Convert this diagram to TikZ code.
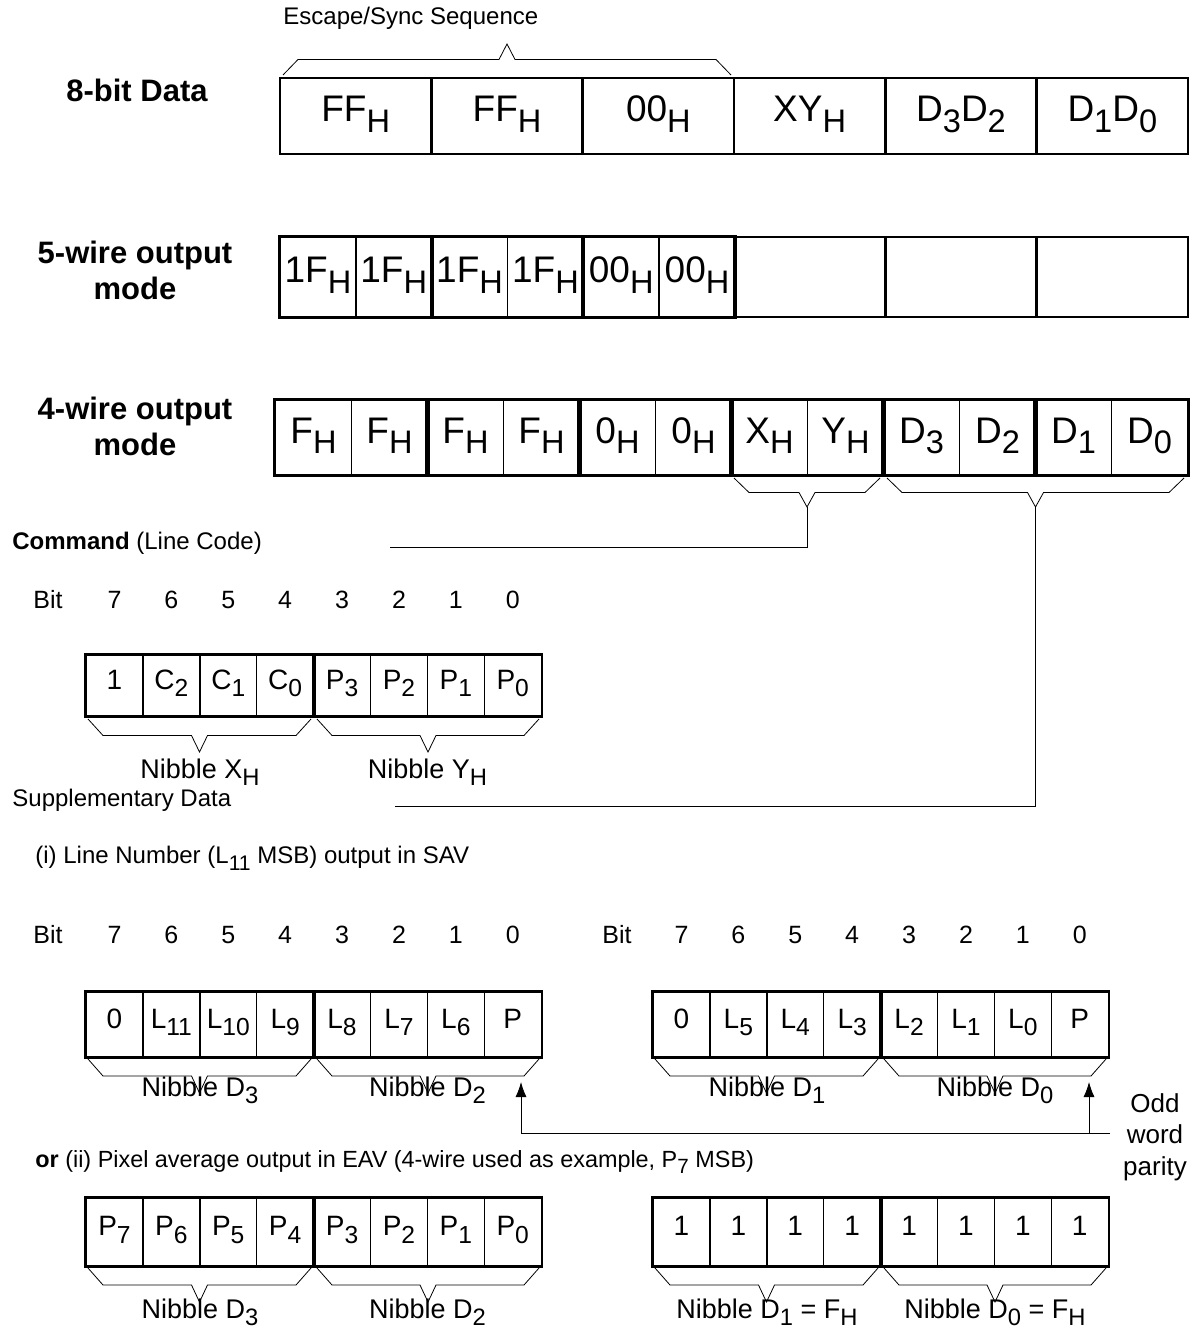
\documentclass[tikz,border=0pt]{standalone}
\usepackage{fontspec}
\setmainfont{Liberation Sans}
\usetikzlibrary{arrows.meta,positioning}

\newcommand{\lo}[1]{\raisebox{-0.28em}{\scalebox{0.88}{#1}}}
\newcommand{\nibbrace}[5]{%
  \draw (#1,#3) -- ({#1+15},{(#3+#4)/2}) -- ({(#1+#2)/2-8},{(#3+#4)/2})
    -- ({(#1+#2)/2},#4) coordinate (#5) -- ({(#1+#2)/2+8},{(#3+#4)/2})
    -- ({#2-15},{(#3+#4)/2}) -- (#2,#3);}

\begin{document}
\begin{tikzpicture}[x=0.5pt, y=-0.5pt, >={Latex[length=7.5pt,width=5.5pt]},
  every node/.style={inner sep=0pt, font=\fontsize{12}{14}\selectfont},
  rowlabel/.style={align=center, font=\fontsize{15.5}{18}\bfseries\selectfont},
  bigcell/.style={draw, line width=1.4pt, minimum width=75.67pt, minimum height=38pt, text height=13.2pt, text depth=7.5pt, font=\fontsize{18.5}{22}\selectfont},
  halfcell/.style={draw, line width=0.7pt, minimum width=37.9pt, text height=13.2pt, text depth=7.5pt, font=\fontsize{18.5}{22}\selectfont},
  bitcell/.style={draw, line width=0.7pt, minimum width=28.45pt, text height=10pt, text depth=6.5pt, font=\fontsize{14}{16}\selectfont},
  bitnum/.style={font=\fontsize{12.5}{15}\selectfont},
  nibble/.style={anchor=base, font=\fontsize{13.5}{16}\selectfont},
  outline/.style={line width=1.4pt}]
\useasboundingbox (0,0) rectangle (1190,1336);

% 8-bit data
\node[rowlabel] (lab8) at (137,90) {8-bit Data};
\foreach \t [count=\i from 0] in {FF\lo{H},FF\lo{H},00\lo{H},XY\lo{H},D\lo{3}D\lo{2},D\lo{1}D\lo{0}}
  \node[bigcell] (d\i) at (355.67+151.33*\i,116) {\t};
\node[anchor=west] (esctext) at (283,18) {Escape/Sync Sequence};
\nibbrace{283}{731}{75}{44}{esc}

% 5-wire
\node[rowlabel] (lab5) at (135,270) {5-wire output\\mode};
\foreach \t [count=\i from 0] in {1F\lo{H},1F\lo{H},1F\lo{H},1F\lo{H},00\lo{H},00\lo{H}}
  \node[halfcell, minimum height=40pt] (w\i) at (317.92+75.83*\i,277) {\t};
\foreach \i in {3,4,5}
  \node[bigcell, minimum height=40pt] (e\i) at (355.67+151.33*\i,277) {};
\foreach \a/\b in {0/1,2/3,4/5}
  \draw[outline] (w\a.north west) rectangle (w\b.south east);

% 4-wire
\node[rowlabel] (lab4) at (135,426) {4-wire output\\mode};
\foreach \t [count=\i from 0] in {F\lo{H},F\lo{H},F\lo{H},F\lo{H},0\lo{H},0\lo{H},X\lo{H},Y\lo{H},D\lo{3},D\lo{2},D\lo{1},D\lo{0}}
  \node[halfcell, minimum width=38pt, minimum height=37.5pt] (q\i) at (313.5+76*\i,437.5) {\t};
\foreach \a/\b in {0/1,2/3,4/5,6/7,8/9,10/11}
  \draw[outline] (q\a.north west) rectangle (q\b.south east);
\nibbrace{734}{880}{478}{507}{xy}
\nibbrace{887}{1184}{478}{507}{dd}

% command
\node[anchor=west] (cmd) at (12,543) {\textbf{Command} (Line Code)};
\coordinate (cmdend) at (390,547);
\draw (xy) |- (cmdend);
\node[bitnum] (bitA) at (48,600) {Bit};
\foreach \d [count=\i from 0] in {7,6,...,0}
  \node[bitnum] (bA\i) at (114.45+56.9*\i,600) {\d};
\foreach \t [count=\i from 0] in {1,C\lo{2},C\lo{1},C\lo{0},P\lo{3},P\lo{2},P\lo{1},P\lo{0}}
  \node[bitcell, minimum height=30.5pt] (c\i) at (114.45+56.9*\i,685.5) {\t};
\draw[outline] (c0.north west) rectangle (c3.south east);
\draw[outline] (c4.north west) rectangle (c7.south east);
\nibbrace{88}{311}{719}{752}{nx}
\nibbrace{317}{539}{719}{752}{ny}
\node[nibble] (nxl) at (200,778) {Nibble X\lo{H}};
\node[nibble] (nyl) at (427.5,778) {Nibble Y\lo{H}};

% supplementary data
\node[anchor=west] (supp) at (12,800) {Supplementary Data};
\coordinate (supend) at (395,806);
\draw (dd) |- (supend);
\node[anchor=west] (lnum) at (35,858) {(i) Line Number (L\lo{11} MSB) output in SAV};
\node[bitnum] (bitB) at (48,935) {Bit};
\node[bitnum] (bitC) at (617,935) {Bit};
\foreach \d [count=\i from 0] in {7,6,...,0} {
  \node[bitnum] (bB\i) at (114.45+56.9*\i,935) {\d};
  \node[bitnum] (bC\i) at (681.45+56.9*\i,935) {\d};
}
\foreach \t [count=\i from 0] in {0,L\lo{11},L\lo{10},L\lo{9},L\lo{8},L\lo{7},L\lo{6},P}
  \node[bitcell, minimum height=32.5pt] (l\i) at (114.45+56.9*\i,1024.5) {\t};
\foreach \t [count=\i from 0] in {0,L\lo{5},L\lo{4},L\lo{3},L\lo{2},L\lo{1},L\lo{0},P}
  \node[bitcell, minimum height=32.5pt] (m\i) at (681.45+56.9*\i,1024.5) {\t};
\foreach \r in {l,m} {
  \draw[outline] (\r0.north west) rectangle (\r3.south east);
  \draw[outline] (\r4.north west) rectangle (\r7.south east);
}
\nibbrace{88}{311}{1059}{1093}{ld3}
\nibbrace{317}{539}{1059}{1093}{ld2}
\nibbrace{655}{878}{1059}{1093}{ld1}
\nibbrace{884}{1106}{1059}{1093}{ld0}
\node[nibble] (ld3l) at (200,1096) {Nibble D\lo{3}};
\node[nibble] (ld2l) at (427.5,1096) {Nibble D\lo{2}};
\node[nibble] (ld1l) at (767,1096) {Nibble D\lo{1}};
\node[nibble] (ld0l) at (995,1096) {Nibble D\lo{0}};

% parity
\coordinate (parend) at (1110,1133);
\coordinate (tipL) at (521,1082);
\coordinate (tipR) at (1089,1082);
\draw[->] (parend) -| (tipL);
\draw[->] (tipR |- parend) -- (tipR);
\node[align=center, font=\fontsize{13}{15.75}\selectfont] (odd) at (1155,1137) {Odd\\word\\parity};

% pixel average
\node[anchor=west, font=\fontsize{11.7}{14}\selectfont] (pix) at (35,1162) {\textbf{or} (ii) Pixel average output in EAV (4-wire used as example, P\lo{7} MSB)};
\foreach \t [count=\i from 0] in {P\lo{7},P\lo{6},P\lo{5},P\lo{4},P\lo{3},P\lo{2},P\lo{1},P\lo{0}}
  \node[bitcell, minimum height=33.5pt] (p\i) at (114.45+56.9*\i,1232) {\t};
\foreach \i in {0,...,7}
  \node[bitcell, minimum height=33.5pt] (o\i) at (681.45+56.9*\i,1232) {1};
\foreach \r in {p,o} {
  \draw[outline] (\r0.north west) rectangle (\r3.south east);
  \draw[outline] (\r4.north west) rectangle (\r7.south east);
}
\nibbrace{88}{311}{1268}{1302}{pd3}
\nibbrace{317}{539}{1268}{1302}{pd2}
\nibbrace{655}{878}{1268}{1302}{od1}
\nibbrace{884}{1106}{1268}{1302}{od0}
\node[nibble] (pd3l) at (200,1318) {Nibble D\lo{3}};
\node[nibble] (pd2l) at (427.5,1318) {Nibble D\lo{2}};
\node[nibble] (od1l) at (767,1318) {Nibble D\lo{1} = F\lo{H}};
\node[nibble] (od0l) at (995,1318) {Nibble D\lo{0} = F\lo{H}};
\end{tikzpicture}
\end{document}
